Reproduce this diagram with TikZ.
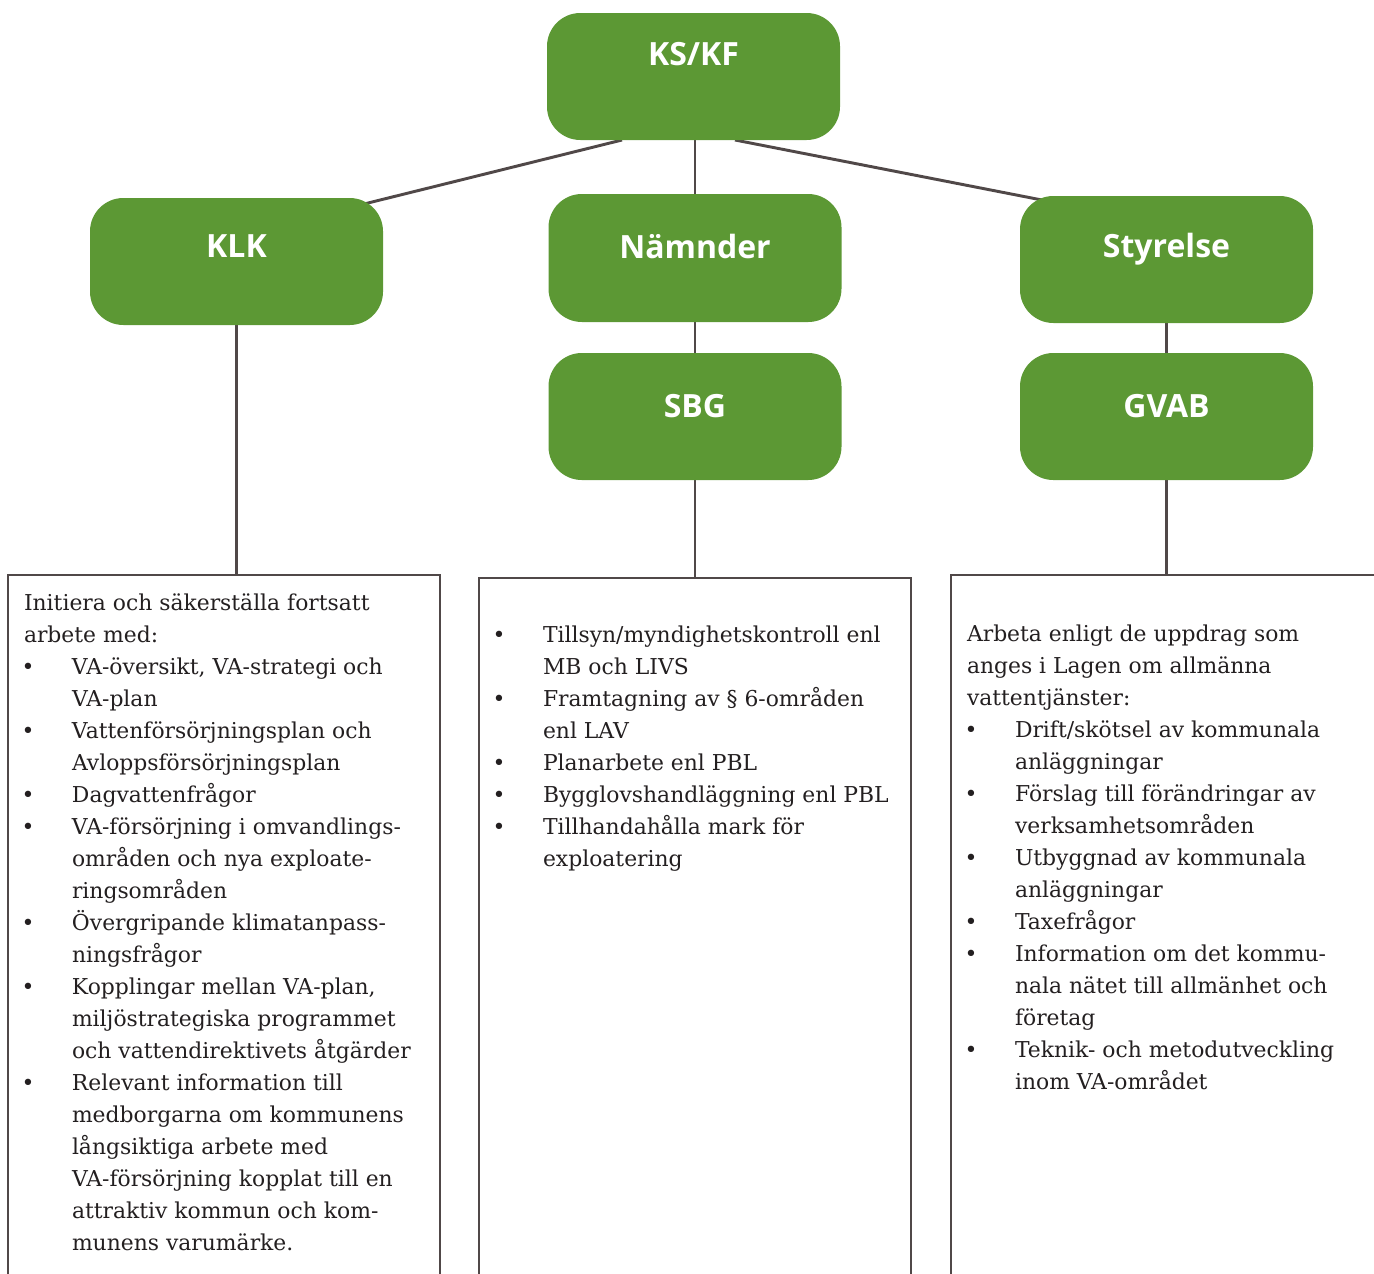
\documentclass[tikz,border=0pt]{standalone}
\usepackage{fontspec}
\setmainfont{DejaVu Serif}
\newfontfamily\headfont{Open Sans}
\usetikzlibrary{calc}
\pgfdeclarelayer{bg}
\pgfsetlayers{bg,main}
\definecolor{vgreen}{RGB}{92,152,52}
\definecolor{lineg}{RGB}{80,72,72}
\definecolor{txtc}{RGB}{35,31,32}
\newcommand{\bul}{\makebox[36pt][l]{\hspace*{3pt}\makebox[0pt]{•}}}
\newcommand{\ind}{\hspace*{36pt}}
\begin{document}
\begin{tikzpicture}[x=0.75pt,y=-0.75pt,
  gbox/.style={fill=vgreen, rounded corners=25pt, minimum width=219.75pt,
    inner xsep=0pt, inner ysep=0pt, outer sep=0pt, text=white,
    font=\headfont\bfseries\fontsize{24}{28}\selectfont, anchor=base},
  tbox/.style={draw=lineg, line width=2pt, outer sep=0pt, inner sep=0pt,
    minimum width=324pt, minimum height=600pt, anchor=north west},
  ttext/.style={anchor=base west, inner sep=0pt, outer sep=0pt, text=txtc,
    font=\fontsize{16.4}{24}\selectfont},
  conn/.style={draw=lineg, line width=2.2pt}]
\useasboundingbox (0,0) rectangle (1374,1274);
\clip (0,0) rectangle (1374,1274);

% green boxes
\node[gbox, text height=39pt, text depth=56.25pt] (KSKF) at (693.5,65) {KS/KF};
\node[gbox, text height=44.25pt, text depth=51pt] (KLK) at (236.5,257) {KLK};
\node[gbox, text height=48pt, text depth=48pt] (NAM) at (695,258) {Nämnder};
\node[gbox, text height=48pt, text depth=47.25pt] (SBG) at (695,417) {SBG};
\node[gbox, text height=45.75pt, text depth=49.5pt] (STY) at (1166.5,257) {Styrelse};
\node[gbox, text height=48pt, text depth=47.25pt] (GVAB) at (1166.5,417) {GVAB};

% text boxes
\node[tbox] (B1) at (8,575) {};
\node[tbox] (B2) at (479,578) {};
\node[tbox] (B3) at (951,575) {};

\node[ttext] (T1) at (24,610) {\begin{tabular}[t]{@{}l@{}}
Initiera och säkerställa fortsatt\\
arbete med:\\
\bul VA-översikt, VA-strategi och\\
\ind VA-plan\\
\bul Vattenförsörjningsplan och\\
\ind Avloppsförsörjningsplan\\
\bul Dagvattenfrågor\\
\bul VA-försörjning i omvandlings-\\
\ind områden och nya exploate-\\
\ind ringsområden\\
\bul Övergripande klimatanpass-\\
\ind ningsfrågor\\
\bul Kopplingar mellan VA-plan,\\
\ind miljöstrategiska programmet\\
\ind och vattendirektivets åtgärder\\
\bul Relevant information till\\
\ind medborgarna om kommunens\\
\ind långsiktiga arbete med\\
\ind VA-försörjning kopplat till en\\
\ind attraktiv kommun och kom-\\
\ind munens varumärke.
\end{tabular}};

\node[ttext] (T2) at (495,642) {\begin{tabular}[t]{@{}l@{}}
\bul Tillsyn/myndighetskontroll enl\\
\ind MB och LIVS\\
\bul Framtagning av § 6-områden\\
\ind enl LAV\\
\bul Planarbete enl PBL\\
\bul Bygglovshandläggning enl PBL\\
\bul Tillhandahålla mark för\\
\ind exploatering
\end{tabular}};

\node[ttext] (T3) at (967,641) {\begin{tabular}[t]{@{}l@{}}
Arbeta enligt de uppdrag som\\
anges i Lagen om allmänna\\
vattentjänster:\\
\bul Drift/skötsel av kommunala\\
\ind anläggningar\\
\bul Förslag till förändringar av\\
\ind verksamhetsområden\\
\bul Utbyggnad av kommunala\\
\ind anläggningar\\
\bul Taxefrågor\\
\bul Information om det kommu-\\
\ind nala nätet till allmänhet och\\
\ind företag\\
\bul Teknik- och metodutveckling\\
\ind inom VA-området
\end{tabular}};

% connectors
\begin{pgfonlayer}{bg}
\draw[conn] ([xshift=-53.6pt]KSKF.south) -- ([xshift=-17.25pt,yshift=-5.25pt]KLK.north east);
\draw[conn] ([xshift=31.1pt]KSKF.south) -- ([xshift=20.25pt,yshift=-3.75pt]STY.north west);
\draw[conn] (KSKF.south -| NAM.north) -- (NAM.north);
\draw[conn] (NAM.south) -- (SBG.north);
\draw[conn] (STY.south) -- (GVAB.north);
\draw[conn] (KLK.south) -- (KLK.south |- B1.north);
\draw[conn] (SBG.south) -- (SBG.south |- B2.north);
\draw[conn] (GVAB.south) -- (GVAB.south |- B3.north);
\end{pgfonlayer}
\end{tikzpicture}
\end{document}
